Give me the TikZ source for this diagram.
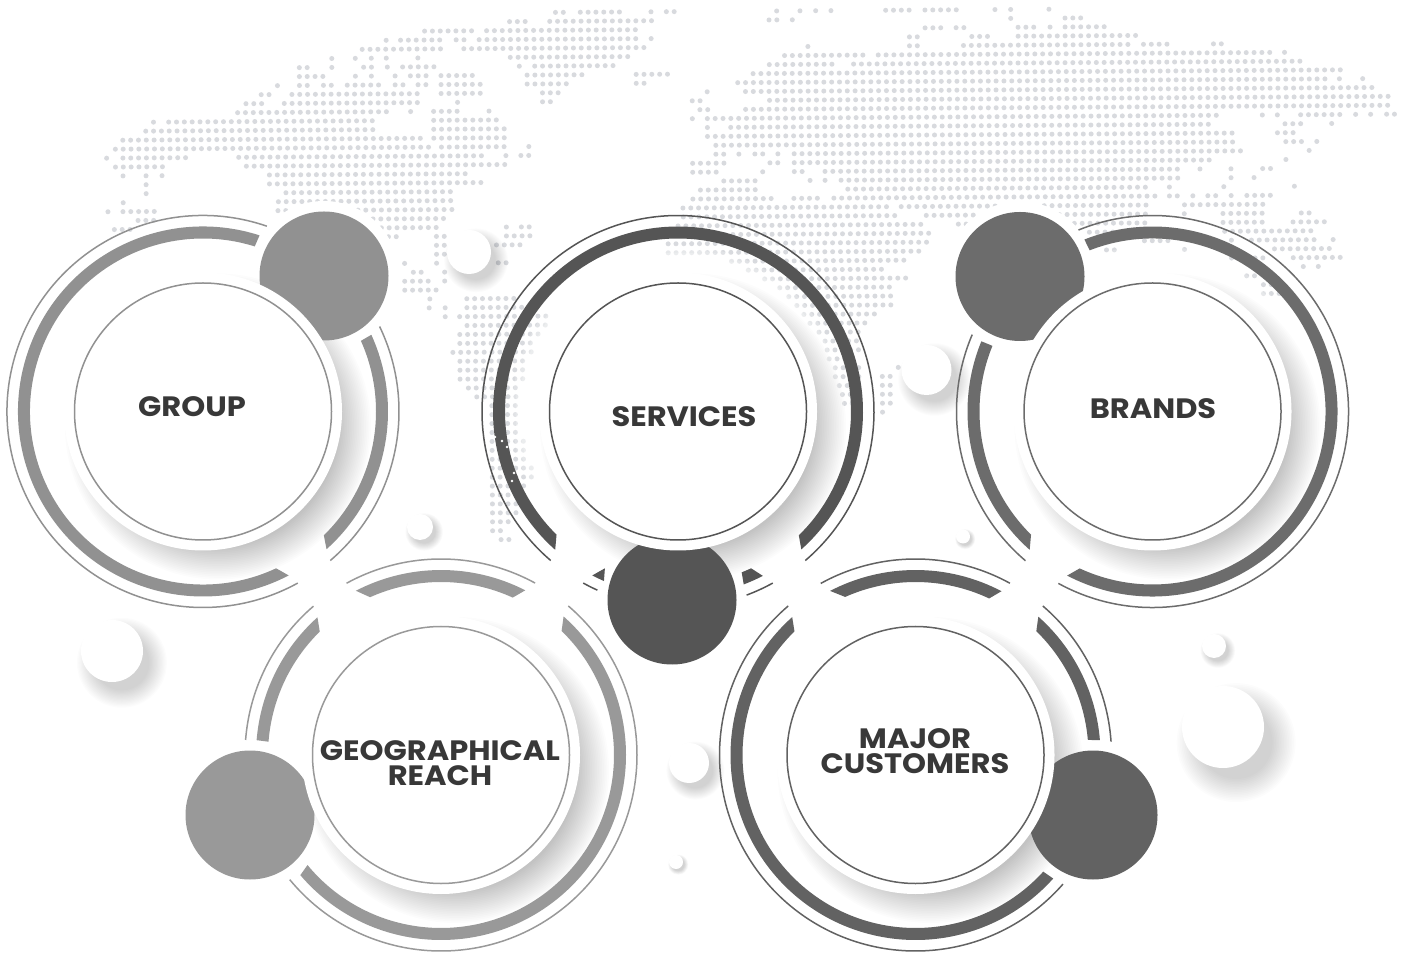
\documentclass[tikz,border=0pt]{standalone}
\usepackage{fontspec}
\setmainfont{Poppins}[FakeStretch=1.09]
\definecolor{mapgray}{RGB}{216,218,222}
\definecolor{labelgray}{RGB}{56,56,56}
\definecolor{groupgray}{RGB}{145,145,145}
\definecolor{servicesgray}{RGB}{85,85,85}
\definecolor{brandsgray}{RGB}{108,108,108}
\definecolor{geogray}{RGB}{153,153,153}
\definecolor{majorgray}{RGB}{98,98,98}
% band: centre, outer start/end angle, inner start/end angle
\newcommand{\ringband}[7]{\fill[#7] ($(#1,#2)+(#3:185)$) arc[start angle=#3, end angle=#4, radius=185] -- ($(#1,#2)+(#6:173)$) arc[start angle=#6, end angle=#5, radius=173] -- cycle;}
\newcommand{\ringline}[5]{\draw[#5, line width=1.5pt] ($(#1,#2)+(#3:196)$) arc[start angle=#3, end angle=#4, radius=196];}
% soft shadow and white face
\newcommand{\softbubble}[3]{
  \foreach \i in {0,...,14} {\fill[black, opacity=.011] (#1+.32*#3,#2-.38*#3) circle[radius=#3*(1.45-.04*\i)];}
  \fill[white] (#1,#2) circle[radius=#3];}
\newcommand{\softglow}[2]{
  \foreach \i in {0,...,7} {\fill[white, opacity=.22] (#1,#2) circle[radius=166-3.5*\i];}
  \foreach \i in {0,...,19} {\fill[black, opacity=.0105] (#1+15,#2-15) circle[radius=153-1.7*\i];}}
\usetikzlibrary{calc}
\begin{document}
\begin{tikzpicture}[
    x=1pt, y=1pt,
    blob/.style={circle, minimum size=129pt, inner sep=0pt},
    halo/.style={circle, fill=white, minimum size=150pt, inner sep=0pt},
    whitedisc/.style={circle, fill=white, minimum size=278pt, inner sep=0pt},
    facedisc/.style={circle, draw=#1, line width=1.5pt, fill=white, minimum size=257pt, inner sep=0pt},
    tag/.style={text=labelgray, font=\bfseries\fontsize{28}{25}\selectfont, align=center, inner sep=0pt}
]
\useasboundingbox (0,0) rectangle (1404,956);
\fill[white] (0,0) rectangle (1404,956);

% Dotted map
\begin{scope}[shift={(0,940)}, rotate=0.37]
\foreach \k/\runs in {
0/{555.5/2,580.3/6,651/1,666.4/2,776.7/1,800/1,815.7/1,831/1,885.7/4,925/5,995/1,1010.7/1,1049/1},
1/{509.5/3,549.7/14,769/2,792.3/1,1010.7/1,1065/3},
2/{424.5/7,486.5/20,925/3,956/2,1018/3,1050/1,1065/6},
3/{386/1,400.4/6,456/2,479/21,651/1,909.3/2,971.7/3,1018/16},
4/{362/11,463.6/24,807.7/1,909.3/2,963.3/22,1143.3/4,1213.3/2},
5/{331.5/1,355/1,371/1,386/1,417.6/1,510/16,784.3/11,878/51,1284.3/1},
6/{299/2,331.5/1,363.3/2,387/1,402.3/5,519/1,534.4/11,769/9,853.3/58},
7/{299/4,355/1,371/1,394.7/1,410/3,440.6/5,526.7/8,635.8/5,752.7/76},
8/{277/1,299/2,323/2,346.8/5,394.7/2,417.6/2,440.6/6,526.7/6,635.8/2,737.3/76,1339/1,1362.3/1},
9/{260.7/2,291.4/17,440.6/6,542/3,706.7/1,745/81},
10/{245.4/3,283.7/18,457/1,542/2,691.7/2,769/80},
11/{237/20,410/1,433/4,488.4/1,699.3/2,745/83},
12/{152.8/1,168/27,433/9,691.7/1,706.7/66,1261.7/1,1276.7/1,1300/6,1355/1,1370/1,1386/2},
13/{145/30,433/10,706.7/1,730/62,1284.3/3,1331/1},
14/{122/39,433/10,706.7/68,1276.7/3},
15/{114.5/41,440.6/9,528/1,715/67,1285/3,1316/1},
16/{105.7/1,122/9,237.8/32,505/1,520/2,715/2,738/1,754/2,777/1,793.3/58,1308.3/1},
17/{114.5/7,245.4/34,691.7/5,769/2,793.3/54,1285/1},
18/{122/1,145/1,161/1,268.4/26,691.7/4,761.7/1,793.3/2,824/46,1199/1,1230/1,1261.7/2},
19/{145/1,268.4/28,722.7/5,809/1,824/1,840/44,1230/1,1253/1},
20/{145/1,284.8/22,699.3/8,846.7/39,1168.3/1,1222.7/1,1293.3/1},
21/{122/1,277.2/23,691.7/11,792.7/4,832.7/42,1168.3/2,1191.7/1,1206.7/2,1230/1,1245.7/4},
22/{106.7/1,121.7/5,276.7/2,356.7/13,681.7/27,900/13,1043/14,1183.3/11},
23/{136.7/3,371.7/10,682/28,925/7,1058/12,1183/1,1221.7/6,1300/2},
24/{113/3,380/8,505/1,520/2,676.7/32,957/2,1073/10,1221.7/6,1291.7/5},
25/{387/2,435/2,505/4,676.7/33,1088/4,1223.3/12},
26/{435/2,495/4,666.7/34,1143/4,1230/1,1250/9,1331.7/1},
27/{435/2,666.7/33,1105/2,1183/1,1273/8},
28/{403/1,435/1,496.7/2,730/23,1230/5,1291.7/7},
29/{411.7/2,443/1,746.7/18,1301.7/1,1316.7/1},
30/{403/4,443/1,763/19,1245/2},
31/{403/5,778/15,1261.7/2},
32/{428/1,465/7,787/14,1261.7/3},
33/{427.3/1,443.3/1,465/8,795/13},
34/{443.3/1,457.7/12,802/10},
35/{465/11,808/8},
36/{457.7/11,817/6},
37/{457.7/10,823/5},
38/{450.7/11,825/5},
39/{457.7/9,827/4},
40/{457.7/9,833/4,896/1},
41/{457.7/9,833/4,880/2},
42/{466/7,837/3,880/2},
43/{474.3/6,840/3,880/2},
44/{489.3/4,842/2,880/2},
45/{489.3/4,880/1},
46/{489.3/4},
47/{489.3/4},
48/{489.3/5},
49/{489.3/5},
50/{489.3/5},
51/{489.3/6},
52/{489.3/6},
53/{489.3/5},
54/{489.3/4},
55/{489.3/4},
56/{489.3/4},
57/{489.3/3},
58/{489.3/2},
59/{497.7/2}} {
  \foreach \xs/\n in \runs {
    \foreach \i in {1,...,\n} {\fill[mapgray] (\xs+7.83*\i-7.83,-8.93*\k) circle[radius=2.5];}
  }
}
\end{scope}

% White gaps round the small circles
\node[halo] (grouphalo) at (324,680) {};
\node[halo] (serviceshalo) at (672,356) {};
\node[halo] (brandshalo) at (1020,679.5) {};
\node[halo] (geohalo) at (250,141) {};
\node[halo] (majorhalo) at (1093,141) {};

% Background bubbles
\softbubble{112}{305}{31}
\softbubble{469}{704}{22}
\softbubble{926.5}{586}{25}
\softbubble{420}{429}{13}
\softbubble{963}{419.5}{7}
\softbubble{689}{193}{20}
\softbubble{676}{94}{7}
\softbubble{1214}{310}{12}
\softbubble{1223}{229}{41}

% Glow and shadow of the big discs
\softglow{203}{544.5}
\softglow{678}{544.5}
\softglow{1152.5}{544.5}
\softglow{441}{201}
\softglow{915.5}{201}

% Group rings
\ringline{203}{544.5}{71}{298.9}{groupgray}
\ringline{203}{544.5}{-49.5}{25.7}{groupgray}
\ringband{203}{544.5}{72.2}{297.6}{72.6}{295}{groupgray}
\ringband{203}{544.5}{-48.1}{24.5}{-45.7}{24.1}{groupgray}

% Services rings
\ringline{678}{544.5}{-49.5}{229.5}{servicesgray}
\ringline{678}{544.5}{241.1}{245.7}{servicesgray}
\ringline{678}{544.5}{-69.5}{-61.1}{servicesgray}
\ringband{678}{544.5}{-48.2}{228.4}{-45.7}{225.4}{servicesgray}
\ringband{678}{544.5}{242.4}{246.4}{245}{245}{servicesgray}
\ringband{678}{544.5}{-69.2}{-62.7}{-68.4}{-65}{servicesgray}

% Brands rings
\ringline{1152.5}{544.5}{-118.7}{112.2}{brandsgray}
\ringline{1152.5}{544.5}{156.9}{229.6}{brandsgray}
\ringband{1152.5}{544.5}{-117.5}{111.6}{-114.9}{111.3}{brandsgray}
\ringband{1152.5}{544.5}{157.7}{228.4}{157.7}{225.4}{brandsgray}

% Geographical reach rings
\ringline{441}{201}{61.3}{118.8}{geogray}
\ringline{441}{201}{130.6}{175.6}{geogray}
\ringline{441}{201}{-140.5}{49.5}{geogray}
\ringband{441}{201}{62.9}{117.4}{65.5}{114.2}{geogray}
\ringband{441}{201}{131.9}{175.4}{134.5}{175.6}{geogray}
\ringband{441}{201}{-139.5}{48.5}{-140.5}{45.8}{geogray}

% Major customers rings
\ringline{915.5}{201}{61.2}{118.9}{majorgray}
\ringline{915.5}{201}{130.5}{318.8}{majorgray}
\ringline{915.5}{201}{3.9}{49.5}{majorgray}
\ringband{915.5}{201}{62.3}{117.5}{64.8}{114}{majorgray}
\ringband{915.5}{201}{131.8}{318.1}{134.4}{317.6}{majorgray}
\ringband{915.5}{201}{4.6}{48.4}{5}{45.7}{majorgray}

% Specks on the services band
\foreach \sx/\sy in {495/519, 502/515, 507/509, 514/483, 512/475} {\fill[white] (\sx,\sy) circle[radius=1.4];}

% Small circles
\node[blob, fill=groupgray] (groupblob) at (324,680) {};
\node[blob, fill=servicesgray] (servicesblob) at (672,356) {};
\node[blob, fill=brandsgray] (brandsblob) at (1020,679.5) {};
\node[blob, fill=geogray] (geoblob) at (250,141) {};
\node[blob, fill=majorgray] (majorblob) at (1093,141) {};

% Big discs
\node[whitedisc] (groupdisc) at (203,544.5) {};
\node[whitedisc] (servicesdisc) at (678,544.5) {};
\node[whitedisc] (brandsdisc) at (1152.5,544.5) {};
\node[whitedisc] (geodisc) at (441,201) {};
\node[whitedisc] (majordisc) at (915.5,201) {};
\node[facedisc=groupgray] (groupface) at (groupdisc) {};
\node[facedisc=servicesgray] (servicesface) at (servicesdisc) {};
\node[facedisc=brandsgray] (brandsface) at (brandsdisc) {};
\node[facedisc=geogray] (geoface) at (geodisc) {};
\node[facedisc=majorgray] (majorface) at (majordisc) {};

% Labels
\node[tag] (grouplabel) at (192,549) {GROUP};
\node[tag] (serviceslabel) at (684,539) {SERVICES};
\node[tag] (brandslabel) at (1153,547) {BRANDS};
\node[tag] (geolabel) at (440,193) {GEOGRAPHICAL\\REACH};
\node[tag] (majorlabel) at (915,205) {MAJOR\\CUSTOMERS};

\end{tikzpicture}
\end{document}
